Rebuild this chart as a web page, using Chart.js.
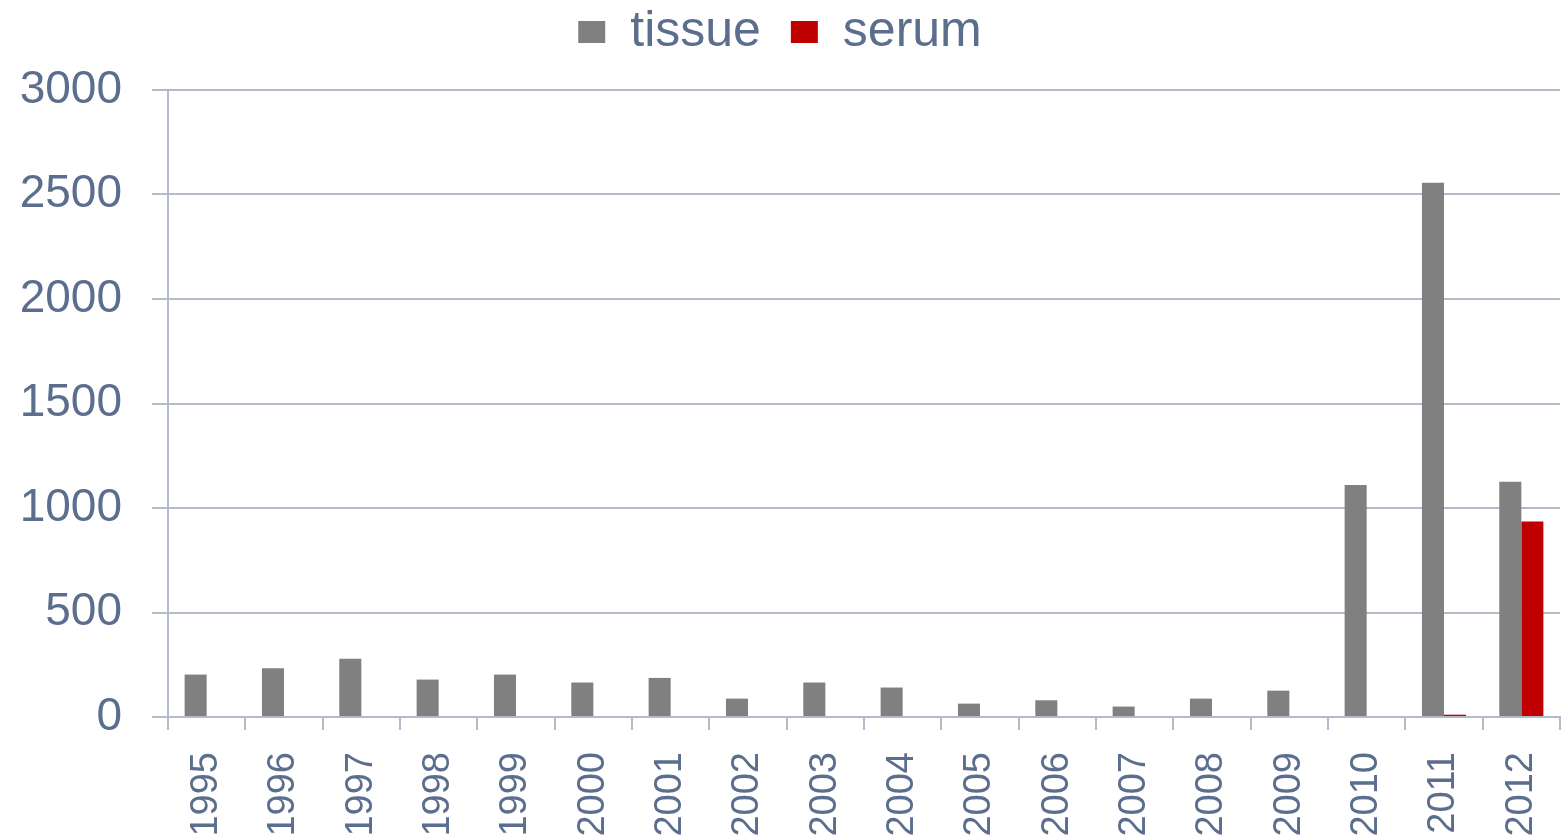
<!DOCTYPE html>
<html>
<head>
<meta charset="utf-8">
<script src="https://cdn.jsdelivr.net/npm/chart.js@4/dist/chart.umd.min.js"></script>
<style>
  html, body { margin: 0; padding: 0; background: #fff; }
  #wrap { width: 1565px; height: 838px; }
</style>
</head>
<body>
<div id="wrap"><canvas id="chart" width="1565" height="838"></canvas></div>
<script>
// data
const years = ['1995', '1996', '1997', '1998', '1999', '2000', '2001', '2002', '2003',
               '2004', '2005', '2006', '2007', '2008', '2009', '2010', '2011', '2012'];
const tissue = [203, 233, 279, 179, 203, 165, 187, 88, 165, 141, 64, 80, 50, 88, 126, 1110, 2556, 1126];
const serum  = [0, 0, 0, 0, 0, 0, 0, 0, 0, 0, 0, 0, 0, 0, 0, 0, 11, 935];
const yTicks = [0, 500, 1000, 1500, 2000, 2500, 3000];

const textColor = '#5b6e8d';
const lineColor = '#b3bbca';

Chart.defaults.font.family = '"Liberation Sans", Arial, sans-serif';
Chart.defaults.color = textColor;

// legend sits higher than chart.js puts it: lift it, keep the plot top where it was
const legendLift = 23;
const legendGap = {
  id: 'legendGap',
  beforeLayout(chart) {
    const lg = chart.legend;
    if (lg && !lg._lifted) {
      const fit = lg.fit;
      lg.fit = function () { fit.call(this); this.height += legendLift; };
      lg._lifted = true;
    }
  }
};

new Chart(document.getElementById('chart'), {
  type: 'bar',
  data: {
    labels: years,
    datasets: [
      { label: 'tissue', data: tissue, backgroundColor: '#808080' },
      { label: 'serum', data: serum, backgroundColor: '#c00000' }
    ]
  },
  options: {
    responsive: false,
    animation: false,
    layout: { padding: { top: -legendLift, right: 5, bottom: 0, left: 0 } },
    datasets: { bar: { categoryPercentage: 0.57, barPercentage: 1.0 } },
    plugins: {
      tooltip: { enabled: false },
      legend: {
        position: 'top',
        labels: {
          font: { size: 50 },
          boxWidth: 27,
          boxHeight: 22,
          padding: 30,
          color: textColor
        }
      }
    },
    scales: {
      x: {
        grid: { display: true, drawOnChartArea: false, color: lineColor, lineWidth: 2, tickLength: 13, offset: true },
        border: { color: lineColor, width: 2 },
        ticks: { font: { size: 38 }, minRotation: 90, maxRotation: 90, padding: 22, color: textColor, autoSkip: false },
        afterFit: s => { s.height = 121; s.paddingLeft = 0; s.paddingRight = 0; }
      },
      y: {
        min: 0, max: 3000,
        afterBuildTicks: s => { s.ticks = yTicks.map(v => ({ value: v })); },
        grid: { color: lineColor, lineWidth: 2, tickLength: 16 },
        border: { color: lineColor, width: 2 },
        ticks: { font: { size: 46 }, padding: 30, color: textColor, callback: v => String(v) },
        afterFit: s => { s.width = 168; s.paddingTop = 0; s.paddingBottom = 0; }
      }
    }
  },
  plugins: [legendGap]
});
</script>
</body>
</html>
